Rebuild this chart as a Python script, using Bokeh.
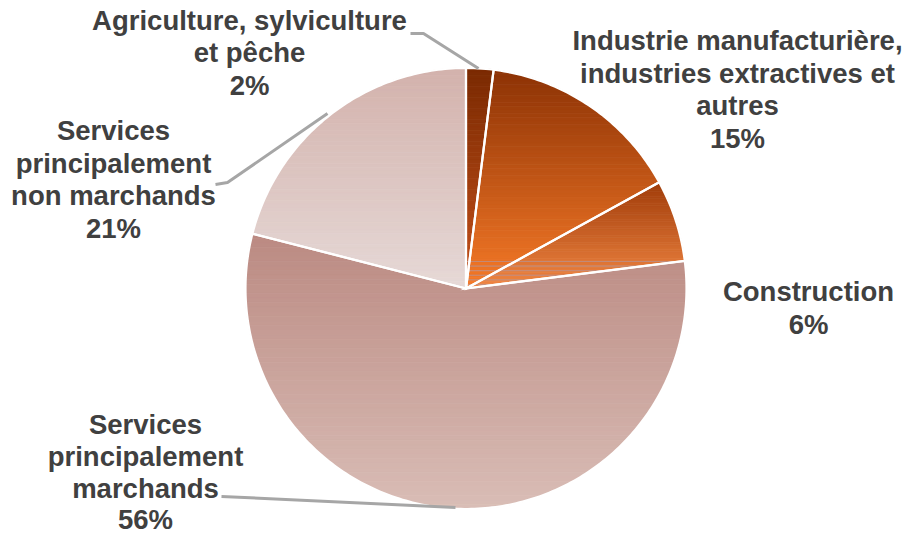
import numpy as np
from bokeh.plotting import figure
from bokeh.models import Range1d
from bokeh.embed import file_html
from bokeh.resources import INLINE
from bokeh.core.properties import value

# ---- data ----
sectors = ["Agriculture, sylviculture et pêche",
           "Industrie manufacturière, industries extractives et autres",
           "Construction",
           "Services principalement marchands",
           "Services principalement non marchands"]
shares = [2, 15, 6, 56, 21]
top_colors = ["#7A2A02", "#8C3205", "#A03C0A", "#BB8A82", "#D3B2AC"]
bottom_colors = ["#C4501A", "#F67A28", "#F28844", "#D9BDB6", "#E6D9D7"]
label_lines = [["Agriculture, sylviculture", "et pêche", "2%"],
               ["Industrie manufacturière,", "industries extractives et", "autres", "15%"],
               ["Construction", "6%"],
               ["Services", "principalement", "marchands", "56%"],
               ["Services", "principalement", "non marchands", "21%"]]

# ---- layout ----
W, H = 911, 535
cx, cy, R = 465.5, 288.0, 220.5
label_pos = [(249, 19.5), (737, 40), (808, 291), (145, 424), (113, 130)]
line_hs = [32.7, 32.5, 32.7, 31.8, 32.7]
leaders = [([410, 423, 478], [33, 33, 68]),
           None, None,
           ([221, 455], [496, 507]),
           ([215, 227, 327], [184, 182, 113])]

p = figure(width=W, height=H, output_backend="svg", toolbar_location=None,
           x_range=Range1d(0, W), y_range=Range1d(H, 0),
           min_border=0)
p.axis.visible = False
p.grid.visible = False
p.outline_line_color = None
p.background_fill_color = "white"
p.border_fill_color = "white"


def hex2rgb(h):
    h = h.lstrip("#")
    return np.array([int(h[i:i + 2], 16) for i in (0, 2, 4)], dtype=float)


def rgb2hex(c):
    return "#%02x%02x%02x" % tuple(int(round(v)) for v in c)


def clip(poly, yv, keep_greater):
    out = []
    n = len(poly)
    for i in range(n):
        a = poly[i]
        b = poly[(i + 1) % n]
        ina = a[1] >= yv if keep_greater else a[1] <= yv
        inb = b[1] >= yv if keep_greater else b[1] <= yv
        if ina:
            out.append(a)
        if ina != inb:
            t = (yv - a[1]) / (b[1] - a[1])
            out.append((a[0] + t * (b[0] - a[0]), yv))
    return out


total = float(sum(shares))
start = 0.0
outlines_x, outlines_y = [], []
for i, s in enumerate(shares):
    a0 = start / total * 2 * np.pi
    a1 = (start + s) / total * 2 * np.pi
    start += s
    th = np.linspace(a0, a1, max(8, int(s * 4)))
    px = [cx] + list(cx + R * np.sin(th))
    py = [cy] + list(cy - R * np.cos(th))
    poly = list(zip(px, py))
    ymin, ymax = min(py), max(py)
    nb = 60
    edges = np.linspace(ymin, ymax, nb + 1)
    c0, c1 = hex2rgb(top_colors[i]), hex2rgb(bottom_colors[i])
    xs, ys, cols = [], [], []
    for k in range(nb):
        sub = clip(poly, edges[k], True)
        if len(sub) < 3:
            continue
        sub = clip(sub, edges[k + 1] + 0.3, False)
        if len(sub) < 3:
            continue
        xs.append([q[0] for q in sub])
        ys.append([q[1] for q in sub])
        cols.append(rgb2hex(c0 + (c1 - c0) * (k + 0.5) / nb))
    p.patches(xs, ys, fill_color=cols, line_color=cols, line_width=0.6)
    outlines_x.append(px)
    outlines_y.append(py)

p.patches(outlines_x, outlines_y, fill_color=None, line_color="white", line_width=2.2,
          line_join="miter")

for ld in leaders:
    if ld is None:
        continue
    p.line(ld[0], ld[1], line_color="#A6A6A6", line_width=3)

for (lx, ly), lh, lines in zip(label_pos, line_hs, label_lines):
    ys_ = [ly + j * lh for j in range(len(lines))]
    p.text(x=[lx] * len(lines), y=ys_, text=lines, text_align="center",
           text_baseline="middle", text_color="#404040",
           text_font=value("Liberation Sans"), text_font_style="bold",
           text_font_size="27.5px")

open("out.html", "w").write(file_html(p, INLINE))
